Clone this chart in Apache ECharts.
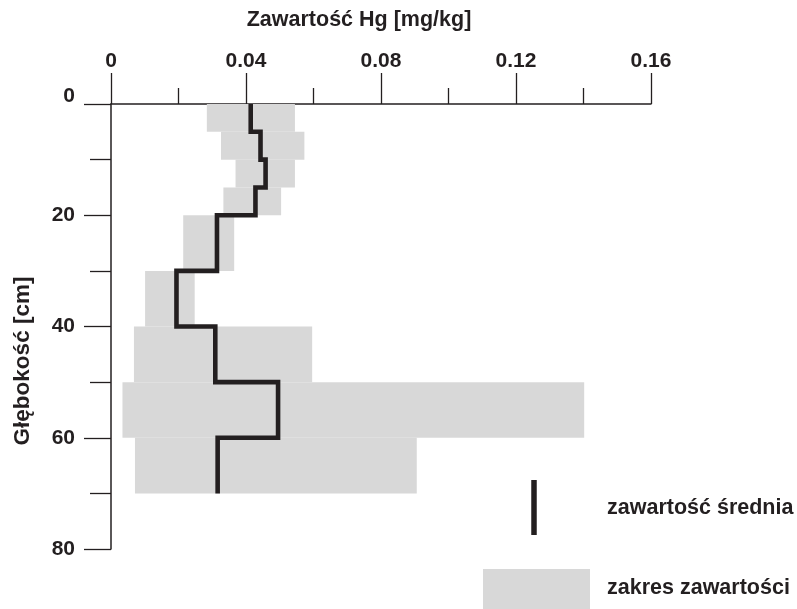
<!DOCTYPE html>
<html>
<head>
<meta charset="utf-8">
<script src="https://cdn.jsdelivr.net/npm/echarts@6/dist/echarts.min.js"></script>
<style>
  html, body { margin: 0; padding: 0; background: #ffffff; }
  #chart { width: 797px; height: 609px; }
</style>
</head>
<body>
<div id="chart"></div>
<script>
// Depth intervals [cm]
const depthStart = [0, 5, 10, 15, 20, 30, 40, 50, 60];
const depthEnd   = [5, 10, 15, 20, 30, 40, 50, 60, 70];
// Hg content range [mg/kg]
const minVals  = [0.0284, 0.0326, 0.0369, 0.0333, 0.0214, 0.0101, 0.0068, 0.0034, 0.0071];
const maxVals  = [0.0545, 0.0573, 0.0545, 0.0504, 0.0365, 0.0248, 0.0596, 0.1402, 0.0906];
// Mean Hg content [mg/kg]
const meanVals = [0.0414, 0.0443, 0.0458, 0.0428, 0.0314, 0.0194, 0.0309, 0.0495, 0.0316];

const xTitle = 'Zawartość Hg [mg/kg]';
const yTitle = 'Głębokość [cm]';
const legendMean = 'zawartość średnia';
const legendRange = 'zakres zawartości';

const ink = '#231f20';
const grey = '#d8d8d8';
const FONT = '"Liberation Sans", Arial, sans-serif';

const rangeData = depthStart.map((d, i) => [minVals[i], maxVals[i], d, depthEnd[i]]);
const meanData = [];
depthStart.forEach((d, i) => {
  meanData.push([meanVals[i], d]);
  meanData.push([meanVals[i], depthEnd[i]]);
});

const chart = echarts.init(document.getElementById('chart'), null, { renderer: 'canvas' });

const lbl = { fontSize: 21, fontWeight: 'bold', color: ink, fontFamily: FONT };

chart.setOption({
  animation: false,
  backgroundColor: '#ffffff',
  grid: { left: 111, top: 104, width: 540, height: 445, containLabel: false },
  xAxis: {
    type: 'value', position: 'top', min: 0, max: 0.16, interval: 0.04,
    axisLine: { show: true, onZero: false, lineStyle: { color: ink, width: 1.5 } },
    axisTick: { show: true, inside: false, length: 31, lineStyle: { color: ink, width: 1.3 } },
    minorTick: { show: true, splitNumber: 2, length: 16, lineStyle: { color: ink, width: 1.3 } },
    splitLine: { show: false }, minorSplitLine: { show: false },
    axisLabel: Object.assign({ margin: 32, formatter: v => (v === 0 ? '0' : v.toFixed(2)) }, lbl)
  },
  yAxis: {
    type: 'value', inverse: true, min: 0, max: 80, interval: 20,
    axisLine: { show: true, onZero: false, lineStyle: { color: ink, width: 1.5 } },
    axisTick: { show: true, inside: false, length: 27, lineStyle: { color: ink, width: 1.3 } },
    minorTick: { show: true, splitNumber: 2, length: 21, lineStyle: { color: ink, width: 1.3 } },
    splitLine: { show: false }, minorSplitLine: { show: false },
    axisLabel: Object.assign({
      margin: 36,
      formatter: v => (v === 0 ? '{z|0}' : String(v)),
      rich: { z: Object.assign({ padding: [0, 0, 16, 0] }, lbl) }
    }, lbl)
  },
  series: [
    {
      type: 'custom',
      name: legendRange,
      data: rangeData,
      encode: { x: [0, 1], y: [2, 3] },
      z: 1,
      renderItem: function (params, api) {
        const p1 = api.coord([api.value(0), api.value(2)]);
        const p2 = api.coord([api.value(1), api.value(3)]);
        return {
          type: 'rect',
          shape: { x: p1[0], y: p1[1], width: p2[0] - p1[0], height: p2[1] - p1[1] },
          style: { fill: grey }
        };
      }
    },
    {
      type: 'line',
      name: legendMean,
      data: meanData,
      symbol: 'none',
      z: 5,
      lineStyle: { color: ink, width: 4.6, join: 'miter', cap: 'butt' }
    }
  ],
  graphic: [
    { type: 'text', x: 359, y: 20, style: { text: xTitle, textAlign: 'center', textVerticalAlign: 'middle', font: 'bold 21.5px ' + FONT, fill: ink } },
    { type: 'text', x: 23, y: 361, rotation: Math.PI / 2, style: { text: yTitle, textAlign: 'center', textVerticalAlign: 'middle', font: 'bold 22.5px ' + FONT, fill: ink } },
    { type: 'line', shape: { x1: 534, y1: 480, x2: 534, y2: 535 }, style: { stroke: ink, lineWidth: 5.5 } },
    { type: 'text', x: 607, y: 508, style: { text: legendMean, textAlign: 'left', textVerticalAlign: 'middle', font: 'bold 21.5px ' + FONT, fill: ink } },
    { type: 'rect', shape: { x: 483, y: 569, width: 107, height: 40 }, style: { fill: grey } },
    { type: 'text', x: 607, y: 588, style: { text: legendRange, textAlign: 'left', textVerticalAlign: 'middle', font: 'bold 21.5px ' + FONT, fill: ink } }
  ]
});
</script>
</body>
</html>
